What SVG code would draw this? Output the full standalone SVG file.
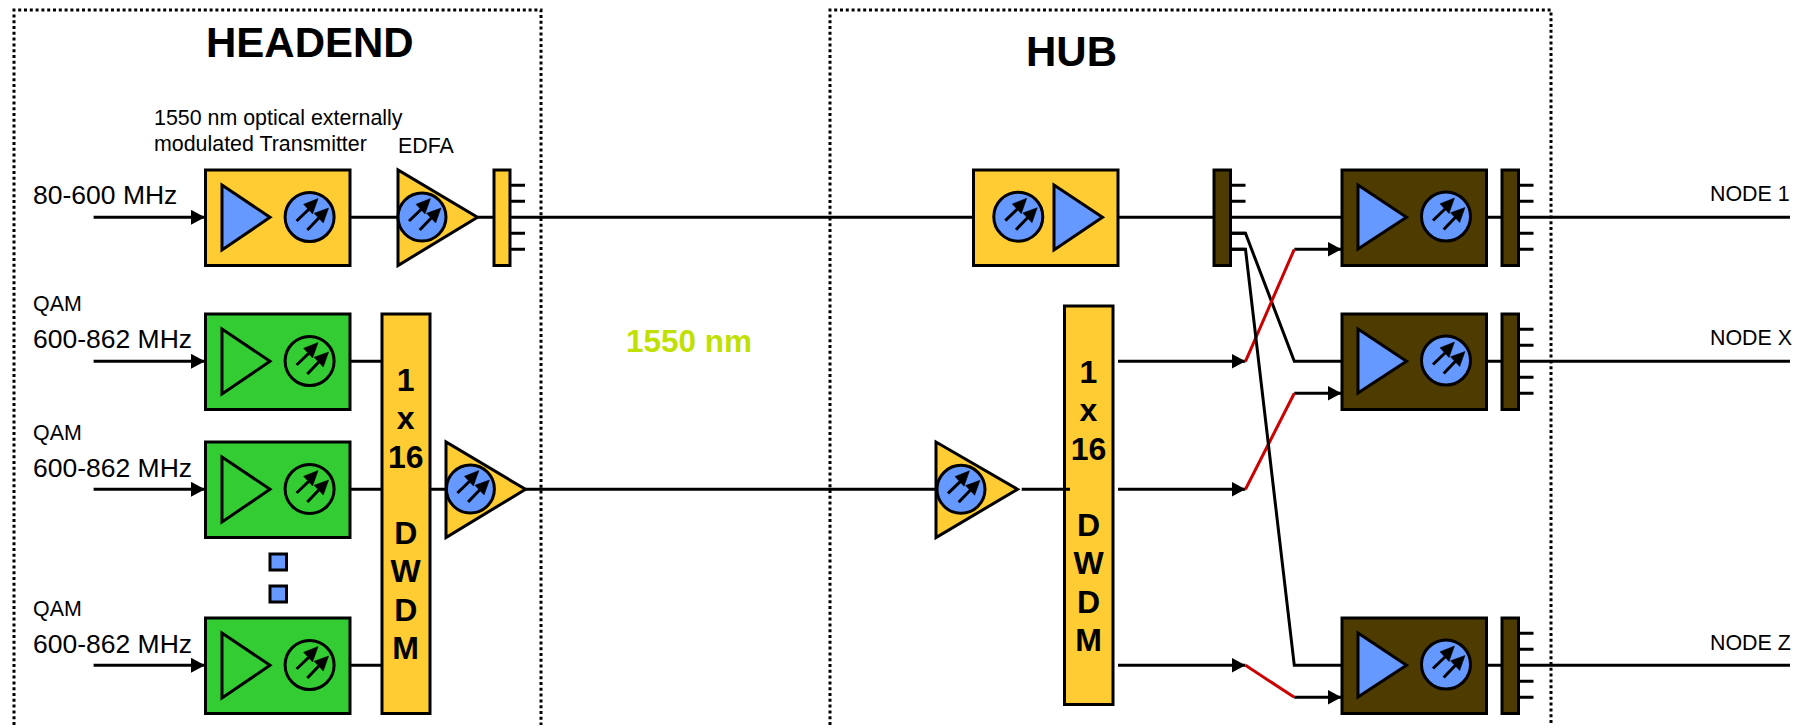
<svg xmlns="http://www.w3.org/2000/svg" width="1802" height="728" viewBox="0 0 1802 728">
<style>
text{font-family:"Liberation Sans",Arial,sans-serif;fill:#000}
.b{font-weight:bold}
.t{font-size:42px;font-weight:bold}
.m{font-size:26.5px}
.s{font-size:21.400px}
.w{font-size:32px;font-weight:bold;text-anchor:middle}
.y{fill:#FFCC33}.g{fill:#33CC33}.l{fill:#6699FF}.d{fill:#4D3B00}
.o{stroke:#000;stroke-width:3}
.c{fill:none;stroke:#000;stroke-width:3}
.r{fill:none;stroke:#CC0000;stroke-width:3}
.f{fill:none;stroke:#000;stroke-width:3;stroke-dasharray:3 2.800}
</style>
<defs>
<marker id="a" markerUnits="userSpaceOnUse" markerWidth="16" markerHeight="16" refX="14" refY="7.5" orient="auto"><path d="M0 0L14 7.5L0 15Z" fill="#000"/></marker>
<g id="ph"><path d="M-13 4L-0.500 -8M-2.300 13L10.200 0" fill="none" stroke="#000" stroke-width="3"/><path d="M8.500 -18.500L-6 -12.700L3 -3ZM19 -9L4.500 -3.700L13.700 6Z" fill="#000" stroke="#000" stroke-width="0.500"/></g>
<g id="stubs"><path d="M0 -32H15M0 -16H15M0 16H15M0 32H15" class="c"/></g>
</defs>
<g id="frames">
<path class="f" d="M14 725V10H541V725"/>
<path class="f" d="M830 725V10H1551V725"/>
</g>
<g id="title-headend"><text class="t" x="206" y="57">HEADEND</text></g>
<g id="title-hub"><text class="t" x="1026" y="66">HUB</text></g>
<g id="labels">
<text class="s" x="154" y="125">1550 nm optical externally</text>
<text class="s" x="154" y="151">modulated Transmitter</text>
<text class="s" x="398" y="152.700">EDFA</text>
<text class="m" x="33" y="204">80-600 MHz</text>
<text class="s" x="33" y="311.200">QAM</text>
<text class="m" x="33" y="348.300">600-862 MHz</text>
<text class="s" x="33" y="439.500">QAM</text>
<text class="m" x="33" y="476.700">600-862 MHz</text>
<text class="s" x="33" y="615.500">QAM</text>
<text class="m" x="33" y="652.700">600-862 MHz</text>
<text class="b" x="626" y="352" font-size="31.500" style="fill:#BFE000">1550 nm</text>
<text class="s" x="1710" y="200.700">NODE 1</text>
<text class="s" x="1710" y="345">NODE X</text>
<text class="s" x="1710" y="650">NODE Z</text>
</g>
<g id="tx-80-600">
<rect class="y o" x="205.500" y="170" width="144.500" height="95.500"/>
<path class="l o" d="M222 185V250L270 217.300Z"/>
<circle class="l o" cx="309.600" cy="217" r="24.500"/><use href="#ph" x="309.600" y="217"/>
</g>
<g id="edfa-1">
<path class="y o" d="M398 170V265.500L477.500 217.300Z"/>
<circle class="l o" cx="422" cy="217" r="24"/><use href="#ph" x="422" y="217"/>
</g>
<g id="splitter-1">
<rect class="y o" x="494" y="170" width="16" height="95.500"/>
<use href="#stubs" x="510" y="217.300"/>
</g>
<g id="qam-1">
<rect class="g o" x="205.500" y="314" width="144.500" height="95.500"/>
<path class="g o" d="M222 329V394L270 361.300Z"/>
<circle class="g o" cx="309.600" cy="361" r="24.500"/><use href="#ph" x="309.600" y="361"/>
</g>
<g id="qam-2">
<rect class="g o" x="205.500" y="442" width="144.500" height="95.500"/>
<path class="g o" d="M222 457V522L270 489.300Z"/>
<circle class="g o" cx="309.600" cy="489" r="24.500"/><use href="#ph" x="309.600" y="489"/>
</g>
<g id="ellipsis">
<rect class="l o" x="270" y="554" width="16.500" height="16"/>
<rect class="l o" x="270" y="586" width="16.500" height="16"/>
</g>
<g id="qam-3">
<rect class="g o" x="205.500" y="618" width="144.500" height="95.500"/>
<path class="g o" d="M222 633V698L270 665.300Z"/>
<circle class="g o" cx="309.600" cy="665" r="24.500"/><use href="#ph" x="309.600" y="665"/>
</g>
<g id="dwdm-headend">
<rect class="y o" x="382" y="314" width="48" height="399.500"/>
<text class="w" x="405.700" y="390.500">1</text>
<text class="w" x="405.700" y="429">x</text>
<text class="w" x="405.700" y="467.700">16</text>
<text class="w" x="405.700" y="544">D</text>
<text class="w" x="405.700" y="582">W</text>
<text class="w" x="405.700" y="621">D</text>
<text class="w" x="405.700" y="659">M</text>
</g>
<g id="edfa-2">
<path class="y o" d="M446 442V537.500L525.500 489.300Z"/>
<circle class="l o" cx="470.400" cy="489" r="24"/><use href="#ph" x="470.400" y="489"/>
</g>
<g id="rx-hub">
<rect class="y o" x="973.500" y="170" width="144.500" height="95.500"/>
<circle class="l o" cx="1018.300" cy="216.700" r="24.500"/><use href="#ph" x="1018.300" y="216.700"/>
<path class="l o" d="M1054 185V250L1102.500 217.300Z"/>
</g>
<g id="edfa-hub">
<path class="y o" d="M936 442V537.500L1017.500 489.300Z"/>
<circle class="l o" cx="961" cy="489.300" r="24"/><use href="#ph" x="961" y="489.300"/>
</g>
<g id="dwdm-hub">
<rect class="y o" x="1064.500" y="306" width="48.500" height="398.500"/>
<text class="w" x="1088.500" y="382.500">1</text>
<text class="w" x="1088.500" y="421">x</text>
<text class="w" x="1088.500" y="459.700">16</text>
<text class="w" x="1088.500" y="536">D</text>
<text class="w" x="1088.500" y="574">W</text>
<text class="w" x="1088.500" y="613">D</text>
<text class="w" x="1088.500" y="651">M</text>
</g>
<g id="splitter-hub">
<rect class="d o" x="1214" y="170" width="16.500" height="95.500"/>
<use href="#stubs" x="1230.500" y="217.300"/>
</g>
<g id="node-1">
<rect class="d o" x="1342" y="170" width="144.500" height="95.500"/>
<path class="l o" d="M1358 185V249L1406.500 217.300Z"/>
<circle class="l o" cx="1446" cy="216.500" r="24.500"/><use href="#ph" x="1446" y="216.500"/>
<rect class="d o" x="1502" y="170" width="16.500" height="95.500"/>
<use href="#stubs" x="1518.500" y="217.300"/>
</g>
<g id="node-x">
<rect class="d o" x="1342" y="314" width="144.500" height="95.500"/>
<path class="l o" d="M1358 329V393L1406.500 361.300Z"/>
<circle class="l o" cx="1446" cy="360.500" r="24.500"/><use href="#ph" x="1446" y="360.500"/>
<rect class="d o" x="1502" y="314" width="16.500" height="95.500"/>
<use href="#stubs" x="1518.500" y="361.300"/>
</g>
<g id="node-z">
<rect class="d o" x="1342" y="618" width="144.500" height="95.500"/>
<path class="l o" d="M1358 633V697L1406.500 665.300Z"/>
<circle class="l o" cx="1446" cy="664.500" r="24.500"/><use href="#ph" x="1446" y="664.500"/>
<rect class="d o" x="1502" y="618" width="16.500" height="95.500"/>
<use href="#stubs" x="1518.500" y="665.300"/>
</g>
<g id="connectors">
<path class="c" marker-end="url(#a)" d="M93.600 217.300H205"/>
<path class="c" marker-end="url(#a)" d="M93.600 361.300H205"/>
<path class="c" marker-end="url(#a)" d="M93.600 489.300H205"/>
<path class="c" marker-end="url(#a)" d="M93.600 665.300H205"/>
<path class="c" d="M350 217.300H398M478 217.300H494M510 217.300H973M350 361.300H382M350 489.300H382M350 665.300H382M430 489.300H446M525 489.300H936M1021.700 489.300H1070M1118 217.300H1214M1230.500 217.300H1342M1487 217.300H1502M1518.500 217.300H1790M1487 361.300H1502M1518.500 361.300H1790M1487 665.300H1502M1518.500 665.300H1790"/>
<path class="c" marker-end="url(#a)" d="M1118 361.300H1245.500"/>
<path class="c" marker-end="url(#a)" d="M1118 489.300H1245.500"/>
<path class="c" marker-end="url(#a)" d="M1118 665.300H1245.500"/>
<path class="c" marker-end="url(#a)" d="M1294.300 249.300H1341.500"/>
<path class="c" marker-end="url(#a)" d="M1294.300 393.300H1341.500"/>
<path class="c" marker-end="url(#a)" d="M1294.300 697.300H1341.500"/>
<path class="c" d="M1231 233.300H1245.500L1294.300 361.300H1342"/>
<path class="r" d="M1245.500 361.300L1294.300 249.300M1245.500 489.300L1294.300 393.300M1245.500 665.300L1294.300 697.300"/>
<path class="c" d="M1231 249.300H1245.500L1294.300 665.300H1342"/>
</g>
</svg>
